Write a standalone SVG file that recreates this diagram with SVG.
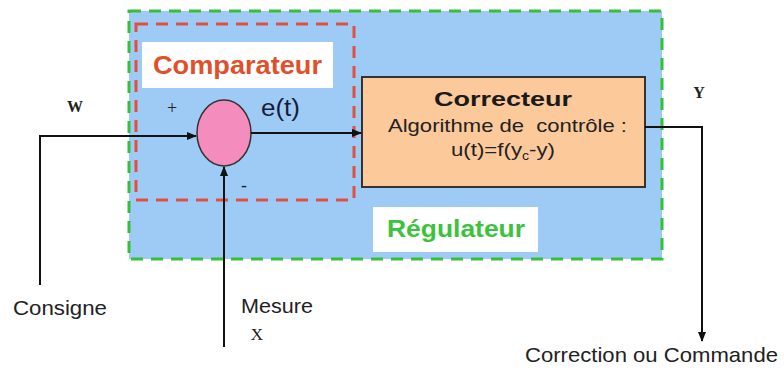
<svg xmlns="http://www.w3.org/2000/svg" width="784" height="371" viewBox="0 0 784 371">
<defs>
<marker id="ah" markerWidth="10" markerHeight="8" refX="9" refY="4" orient="auto" markerUnits="userSpaceOnUse"><path d="M0,0 L10,4 L0,8 z" fill="#111"/></marker>
<style>
.s{font-family:"Liberation Sans",Arial,sans-serif}
.r{font-family:"Liberation Serif","Times New Roman",serif}
.ln{fill:none;stroke:#111;stroke-width:2}
</style>
</defs>
<rect width="784" height="371" fill="#fff"/>
<g id="regulateur">
<rect x="129" y="11" width="533" height="248" fill="#9dcbf6" stroke="#35c035" stroke-width="3" stroke-dasharray="12,8"/>
<rect x="373" y="207" width="165" height="45" fill="#fff"/>
<text x="387" y="237" class="s" font-size="23" font-weight="bold" fill="#3cc23c" textLength="138" lengthAdjust="spacingAndGlyphs">Régulateur</text>
</g>
<g id="comparateur">
<rect x="136" y="24" width="218" height="176" fill="none" stroke="#e0503a" stroke-width="3" stroke-dasharray="12,8"/>
<rect x="142" y="42" width="191" height="46" fill="#fff"/>
<text x="153" y="74" class="s" font-size="25" font-weight="bold" fill="#e0502a" textLength="169" lengthAdjust="spacingAndGlyphs">Comparateur</text>
</g>
<g id="sommateur">
<ellipse cx="224" cy="133" rx="27" ry="33" fill="#f48cbe" stroke="#333" stroke-width="1.5"/>
<text x="172" y="114" class="r" font-size="18" fill="#222" text-anchor="middle">+</text>
<text x="244" y="192" class="s" font-size="18" fill="#222" text-anchor="middle">-</text>
</g>
<g id="correcteur">
<rect x="362" y="77" width="283" height="110" fill="#fbc99a" stroke="#333" stroke-width="2"/>
<text x="434" y="106" class="s" font-size="20" font-weight="bold" fill="#1a1a1a" textLength="138" lengthAdjust="spacingAndGlyphs">Correcteur</text>
<text x="388" y="132" class="s" font-size="19" fill="#222" textLength="239" lengthAdjust="spacingAndGlyphs" xml:space="preserve">Algorithme de  contrôle :</text>
<text x="451" y="156" class="s" font-size="19" fill="#222" textLength="104" lengthAdjust="spacingAndGlyphs">u(t)=f(y<tspan font-size="12" dy="4">c</tspan><tspan dy="-4">-y)</tspan></text>
</g>
<g id="connecteurs">
<path class="ln" d="M40,285 V136 H196" marker-end="url(#ah)"/>
<path class="ln" d="M224,347 V167" marker-end="url(#ah)"/>
<path class="ln" d="M251,133 H361" marker-end="url(#ah)"/>
<path class="ln" d="M645,127 H702 V341" marker-end="url(#ah)"/>
</g>
<g id="labels">
<text x="75" y="112" class="r" font-size="16" font-weight="bold" fill="#222" text-anchor="middle">W</text>
<text x="261" y="116" class="s" font-size="23" fill="#1a1a3a" textLength="39" lengthAdjust="spacingAndGlyphs">e(t)</text>
<text x="699" y="98" class="r" font-size="16" font-weight="bold" fill="#222" text-anchor="middle">Y</text>
<text x="13" y="315" class="s" font-size="20" fill="#222" textLength="94" lengthAdjust="spacingAndGlyphs">Consigne</text>
<text x="241" y="313" class="s" font-size="20" fill="#222" textLength="72" lengthAdjust="spacingAndGlyphs">Mesure</text>
<text x="257" y="340" class="r" font-size="17" fill="#222" text-anchor="middle">X</text>
<text x="525" y="362" class="s" font-size="21" fill="#222" textLength="253" lengthAdjust="spacingAndGlyphs">Correction ou Commande</text>
</g>
</svg>
